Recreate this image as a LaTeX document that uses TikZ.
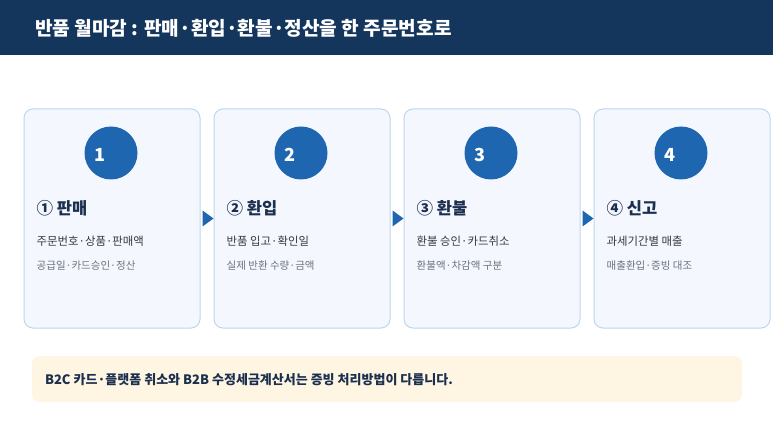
\documentclass[tikz,border=0pt]{standalone}
\usepackage{fontspec}
\setmainfont{Noto Sans CJK KR}
\newfontfamily\kr{Noto Sans CJK KR}
\usetikzlibrary{calc}
\definecolor{navy}{HTML}{14365C}
\definecolor{circ}{HTML}{1F66B1}
\definecolor{headtxt}{HTML}{1B2F4E}
\definecolor{cardfill}{HTML}{F4F8FE}
\definecolor{cardline}{HTML}{BDD7EE}
\definecolor{linea}{HTML}{333A44}
\definecolor{lineb}{HTML}{6B7280}
\definecolor{notefill}{HTML}{FEF5E3}
\tikzset{
  card/.style={draw=cardline, line width=1pt, fill=cardfill, rounded corners=9pt, minimum width=176pt, minimum height=219pt, inner sep=0pt},
  numcirc/.style={circle, fill=circ, minimum size=53pt, inner sep=0pt},
  numtxt/.style={inner sep=0pt, text=white, font=\kr\bfseries\fontsize{18}{20}\selectfont},
  heading/.style={anchor=west, inner sep=0pt, text=headtxt, font=\kr\bfseries\fontsize{16.5}{18}\selectfont},
  linetxta/.style={anchor=west, inner sep=0pt, text=linea, font=\kr\fontsize{11.4}{13}\selectfont},
  linetxtb/.style={anchor=west, inner sep=0pt, text=lineb, font=\kr\fontsize{10.5}{12}\selectfont},
  arrowtri/.style={fill=circ},
}
\begin{document}
\begin{tikzpicture}[x=1pt,y=-1pt]
\useasboundingbox (0,0) rectangle (773,435);
\fill[white] (0,0) rectangle (773,435);
\fill[navy] (0,0) rectangle (773,55);
\node[anchor=west, inner sep=0pt, text=white, font=\kr\bfseries\fontsize{19.1}{22}\selectfont] (title) at (35,28) {반품 월마감 : 판매·환입·환불·정산을 한 주문번호로};

\foreach \i/\x/\n/\h/\a/\b in {
  1/112/1/① 판매/주문번호·상품·판매액/공급일·카드승인·정산,
  2/302/2/② 환입/반품 입고·확인일/실제 반환 수량·금액,
  3/492/3/③ 환불/환불 승인·카드취소/환불액·차감액 구분,
  4/682/4/④ 신고/과세기간별 매출/매출환입·증빙 대조}{
  \node[card] (c\i) at (\x,218.5) {};
  \node[numcirc] (n\i) at ($(c\i.center)+(-1,-65.5)$) {};
  \node[numtxt] (t\i) at ($(n\i.center)+(-11,2)$) {\n};
  \node[heading] (h\i) at ($(c\i.west)+(13,-10.5)$) {\h};
  \node[linetxta] (a\i) at ($(c\i.west)+(13,22.5)$) {\a};
  \node[linetxtb] (b\i) at ($(c\i.west)+(13,47)$) {\b};
}
\foreach \i/\j in {1/2,2/3,3/4}{
  \fill[arrowtri] ($(c\i.east)+(2,-8)$) -- ($(c\i.east)+(13,0)$) -- ($(c\i.east)+(2,8)$) -- cycle;
}

\node[fill=notefill, rounded corners=8pt, minimum width=710pt, minimum height=46pt, inner sep=0pt] (note) at (387,379) {};
\node[anchor=west, inner sep=0pt, text=headtxt, font=\kr\bfseries\fontsize{13}{15}\selectfont] (notetxt) at ($(note.west)+(13,1)$) {B2C 카드·플랫폼 취소와 B2B 수정세금계산서는 증빙 처리방법이 다릅니다.};
\end{tikzpicture}
\end{document}
